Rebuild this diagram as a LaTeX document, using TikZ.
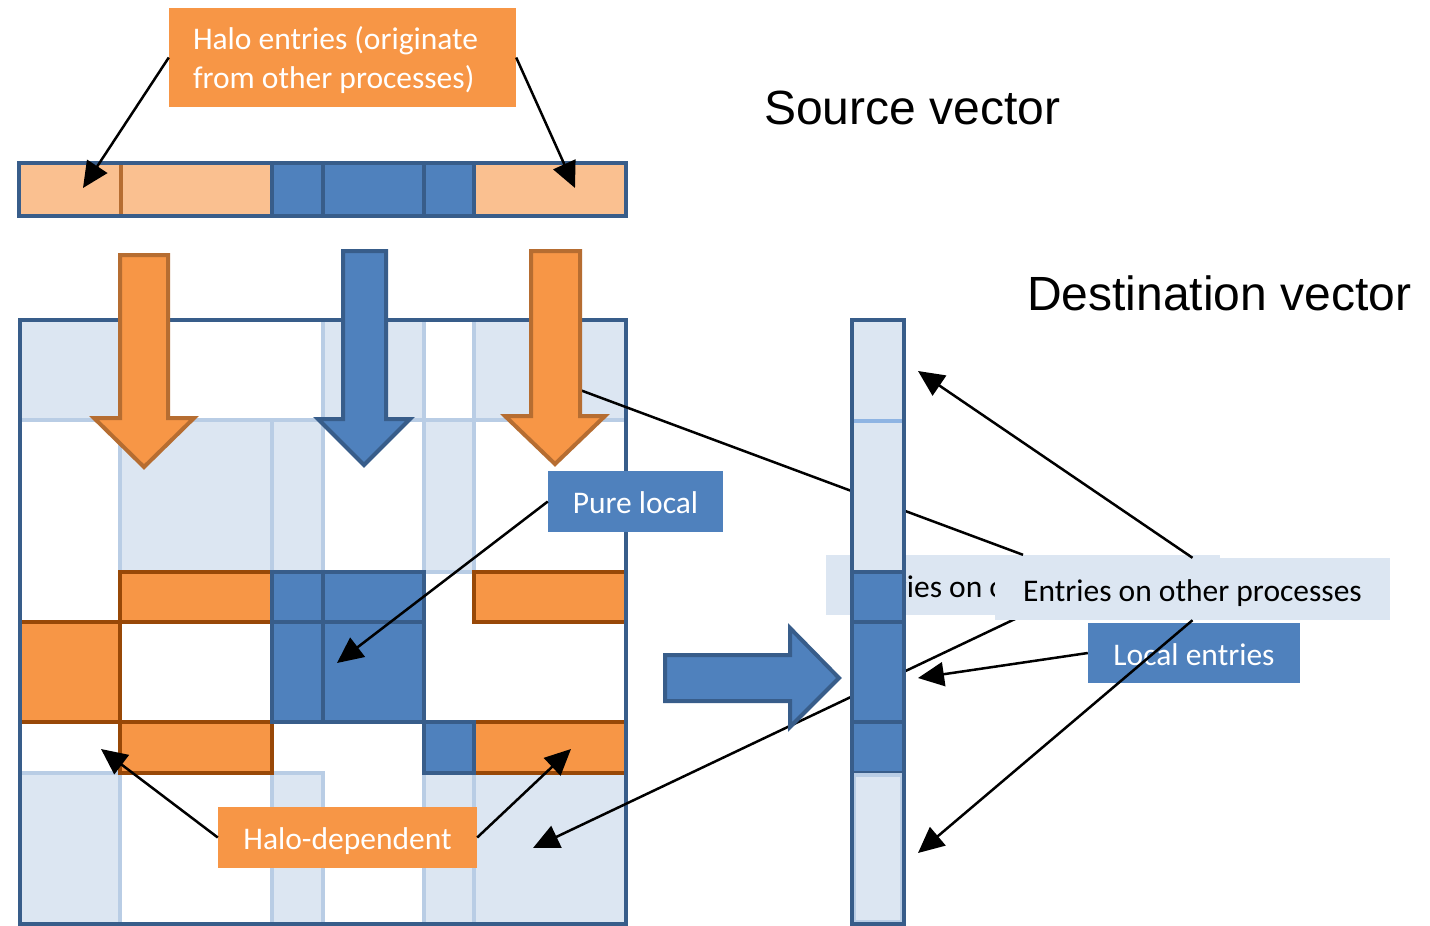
\documentclass[tikz,border=0pt]{standalone}
\usepackage{fontspec}
\setmainfont{Carlito}
\newfontfamily\arialf{Liberation Sans}
\usetikzlibrary{arrows.meta}
\definecolor{orF}{HTML}{F79646}
\definecolor{orB}{HTML}{B66D31}
\definecolor{orCell}{HTML}{984807}
\definecolor{orL}{HTML}{FAC090}
\definecolor{blF}{HTML}{4F81BD}
\definecolor{blB}{HTML}{385D8A}
\definecolor{lbF}{HTML}{DCE6F2}
\definecolor{lbB}{HTML}{B9CDE5}
\definecolor{lbD}{HTML}{8EB4E3}
\tikzset{
  lbcell/.style={fill=lbF, draw=lbB, line width=4pt},
  orcell/.style={fill=orF, draw=orCell, line width=4pt},
  blcell/.style={fill=blF, draw=blB, line width=4pt},
  frame/.style={draw=blB, line width=4pt},
  orarrow/.style={fill=orF, draw=orB, line width=4pt, line join=miter},
  blarrow/.style={fill=blF, draw=blB, line width=4pt, line join=miter},
  lab/.style={inner sep=0pt, font=\fontsize{31.5}{39}\selectfont, text height=24pt, text depth=0pt},
  callout/.style={line width=2.5pt, -{Triangle[length=26pt,width=24pt]}},
  plainline/.style={line width=2.5pt},
  title/.style={font=\arialf\fontsize{48}{58}\selectfont, anchor=base west, inner sep=0pt}
}
\begin{document}
\begin{tikzpicture}[x=1pt,y=-1pt]
\useasboundingbox (0,0) rectangle (1430,926);
\fill[white] (0,0) rectangle (1430,926);
% ---- matrix light-blue cells
\draw[lbcell] (20,320) rectangle (120,420);
\draw[lbcell] (323,320) rectangle (424,420);
\draw[lbcell] (474,320) rectangle (626,420);
\draw[lbcell] (120,420) rectangle (272,572);
\draw[lbcell] (272,420) rectangle (323,572);
\draw[lbcell] (424,420) rectangle (474,572);
\draw[lbcell] (20,773) rectangle (120,924);
\draw[lbcell] (272,773) rectangle (323,924);
\draw[lbcell] (424,773) rectangle (474,924);
\draw[lbcell] (474,773) rectangle (626,924);
% ---- orange cells
\draw[orcell] (120,572) rectangle (272,622);
\draw[orcell] (474,572) rectangle (626,622);
\draw[orcell] (20,622) rectangle (120,722);
\draw[orcell] (120,722) rectangle (272,773);
\draw[orcell] (474,722) rectangle (626,773);
% ---- blue cells
\draw[blcell] (272,572) rectangle (323,622);
\draw[blcell] (323,572) rectangle (424,622);
\draw[blcell] (272,622) rectangle (323,722);
\draw[blcell] (323,622) rectangle (424,722);
\draw[blcell] (424,722) rectangle (474,773);
\draw[frame] (20,320) rectangle (626,924);
% ---- source vector
\fill[orL] (19,163) rectangle (272,216);
\fill[orL] (474,163) rectangle (626,216);
\draw[orB, line width=4pt] (121,163) -- (121,216);
\draw[blcell] (272,163) rectangle (323,216);
\draw[blcell] (323,163) rectangle (424,216);
\draw[blcell] (424,163) rectangle (474,216);
\draw[frame] (19,163) rectangle (626,216);
% ---- titles
\node[title] (src) at (764,124) {Source vector};
\node[title] (dst) at (1027,310) {Destination vector};
% ---- hidden (back) callout and its lines
\node[lab, fill=lbF, minimum width=394pt, minimum height=60pt] (eback) at (1023,585) {Entries on other processes};
\coordinate (bTop) at (580,390);
\coordinate (bBot) at (533,848);
\draw[plainline] (eback.north) -- (bTop);
\draw[callout] (eback.south) -- (bBot);
% ---- down block arrows
\draw[orarrow] (120,255) -- (168,255) -- (168,418) -- (194,418) -- (144,467) -- (94,418) -- (120,418) -- cycle;
\draw[blarrow] (343,251) -- (386,251) -- (386,419) -- (410,419) -- (364,465) -- (318,419) -- (343,419) -- cycle;
\draw[orarrow] (531,251) -- (580,251) -- (580,416) -- (605,416) -- (555,464) -- (505,416) -- (531,416) -- cycle;
% ---- right block arrow
\draw[blarrow] (665,655) -- (790,655) -- (790,628) -- (839,678) -- (790,727) -- (790,701) -- (665,701) -- cycle;
% ---- destination vector
\fill[lbF] (852,320) rectangle (904,572);
\draw[lbD, line width=4pt] (854,421) -- (902,421);
\draw[blcell] (852,572) rectangle (904,622);
\draw[blcell] (852,622) rectangle (904,722);
\draw[blcell] (852,722) rectangle (904,773);
\draw[lbcell] (854,775) rectangle (902,922);
\draw[frame] (852,320) rectangle (904,924);
% ---- labels
\node[lab, fill=lbF, minimum width=395pt, minimum height=62pt] (efront) at (1192.5,589) {Entries on other processes};
\node[lab, fill=blF, text=white, minimum width=212pt, minimum height=60pt] (local) at (1194,653) {Local entries};
\node[lab, fill=blF, text=white, minimum width=175pt, minimum height=61pt] (pure) at (635.5,501.5) {Pure local};
\node[lab, fill=orF, text=white, minimum width=259pt, minimum height=61pt] (halodep) at (347.5,837.5) {Halo-dependent};
\node[inner sep=0pt, fill=orF, text=white, align=flush left, text width=299pt, minimum width=347pt, minimum height=99pt, text height=22pt, text depth=39pt, font=\fontsize{31.5}{39}\selectfont] (halo) at (342.5,57.5) {Halo entries (originate\\from other processes)};
% ---- connector end points
\coordinate (hL) at (83,188);
\coordinate (hR) at (575,188);
\coordinate (pT) at (337,663);
\coordinate (dL) at (101,749);
\coordinate (dR) at (571,749);
\coordinate (lT) at (918,678);
\coordinate (fT) at (918,371);
\coordinate (fB) at (918,853);
% ---- connectors
\draw[callout] (halo.west) -- (hL);
\draw[callout] (halo.east) -- (hR);
\draw[callout] (pure.west) -- (pT);
\draw[callout] (halodep.west) -- (dL);
\draw[callout] (halodep.east) -- (dR);
\draw[callout] (local.west) -- (lT);
\draw[callout] (efront.north) -- (fT);
\draw[callout] (efront.south) -- (fB);
\end{tikzpicture}
\end{document}
